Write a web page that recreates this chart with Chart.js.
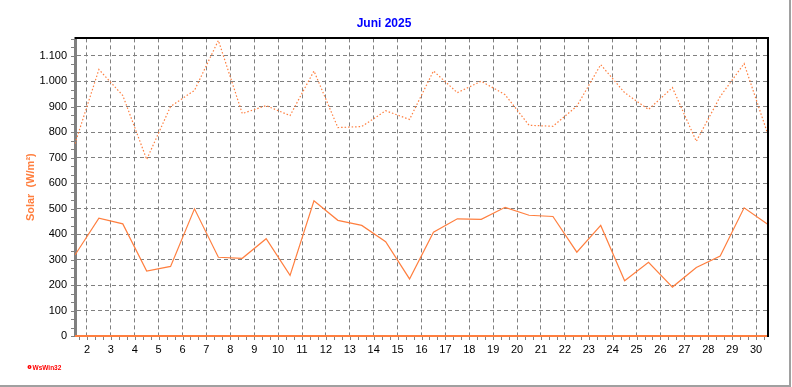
<!DOCTYPE html>
<html>
<head>
<meta charset="utf-8">
<script src="https://cdn.jsdelivr.net/npm/chart.js@4/dist/chart.umd.min.js"></script>
<style>
html,body{margin:0;padding:0;background:#fff;}
canvas{display:block;}
</style>
</head>
<body>
<canvas id="c" width="792" height="387"></canvas>
<script>
// ---- data ----
const days = [1,2,3,4,5,6,7,8,9,10,11,12,13,14,15,16,17,18,19,20,21,22,23,24,25,26,27,28,29,30];
const solarMax = [755,1046,944,693,901,964,1160,873,904,865,1040,818,822,884,850,1040,955,1000,947,827,823,902,1065,955,889,975,764,940,1069,790];
const solarAvg = [318,462,440,255,273,499,309,305,382,238,531,454,434,370,224,407,460,458,505,474,469,329,434,217,289,192,269,314,503,438];
const solarMin = [0,0,0,0,0,0,0,0,0,0,0,0,0,0,0,0,0,0,0,0,0,0,0,0,0,0,0,0,0,0];
const xTickLabels = [2,3,4,5,6,7,8,9,10,11,12,13,14,15,16,17,18,19,20,21,22,23,24,25,26,27,28,29,30];
const yTickValues = [0,100,200,300,400,500,600,700,800,900,1000,1100];
const titleText = 'Juni 2025';
const yTitle = 'Solar  (W/m²)';

const ORANGE = '#ff7f3f';
const FONT = 'Liberation Sans, Arial, sans-serif';

// daily values are plotted at the middle of each day
const pts = arr => arr.map((v, i) => ({x: days[i] + 0.5, y: v}));

const fmt = v => String(v).replace(/\B(?=(\d{3})+(?!\d))/g, '.');

const decor = {
  id: 'decor',
  afterDraw(chart) {
    const {ctx, chartArea: a, scales} = chart;
    const xs = scales.x, ys = scales.y;
    ctx.save();
    // minor ticks on y axis
    ctx.strokeStyle = '#808080';
    ctx.lineWidth = 1;
    ctx.beginPath();
    for (let v = 0; v <= ys.max; v += 100 / 3) {
      const y = Math.round(ys.getPixelForValue(v)) + 0.5;
      ctx.moveTo(a.left - 4, y); ctx.lineTo(a.left - 1, y);
    }
    // minor ticks on x axis
    for (let d = 2 - 1/3; d <= xs.max; d += 1 / 3) {
      if (d < xs.min) continue;
      const x = Math.round(xs.getPixelForValue(d)) + 0.5;
      ctx.moveTo(x, a.bottom + 1); ctx.lineTo(x, a.bottom + 4);
    }
    ctx.stroke();
    // top and right frame
    ctx.fillStyle = '#000';
    ctx.fillRect(a.left, Math.round(a.top) - 1, a.right - a.left + 1, 2);
    ctx.fillRect(Math.round(a.right) - 1, a.top - 1, 2, a.bottom - a.top + 2);
    // page border
    ctx.fillStyle = '#a0a0a0';
    ctx.fillRect(789, 0, 2, 387);
    ctx.fillRect(0, 385, 791, 2);
    // WsWin32 mark
    ctx.fillStyle = '#ff0000';
    ctx.beginPath();
    ctx.arc(29.5, 367, 2, 0, Math.PI * 2);
    ctx.fill();
    ctx.fillStyle = '#fff';
    ctx.fillRect(29, 366.5, 1, 1);
    ctx.fillStyle = '#ff0000';
    ctx.font = 'bold 6.5px ' + FONT;
    ctx.textBaseline = 'middle';
    ctx.textAlign = 'left';
    ctx.fillText('WsWin32', 32.5, 368);
    ctx.restore();
  }
};

new Chart(document.getElementById('c'), {
  type: 'line',
  data: {
    datasets: [
      {data: pts(solarMax), borderColor: ORANGE, borderWidth: 1.2, borderDash: [1.5, 2], pointRadius: 0, tension: 0, fill: false},
      {data: pts(solarAvg), borderColor: ORANGE, borderWidth: 1.2, pointRadius: 0, tension: 0, fill: false},
      {data: pts(solarMin), borderColor: ORANGE, borderWidth: 2, pointRadius: 0, tension: 0, fill: false, clip: 4}
    ]
  },
  options: {
    responsive: false,
    animation: false,
    devicePixelRatio: 1,
    layout: {padding: {left: 0, right: 24, top: 0, bottom: 0}},
    plugins: {
      legend: {display: false},
      tooltip: {enabled: false},
      title: {
        display: true, text: titleText, color: '#0000ff',
        font: {family: FONT, size: 12, weight: 'bold'},
        padding: {top: 16, bottom: 8}
      }
    },
    scales: {
      x: {
        type: 'linear', min: 1.5, max: 30.5,
        afterFit: s => { s.height = 51; },
        afterBuildTicks: s => { s.ticks = xTickLabels.map(v => ({value: v})); },
        ticks: {color: '#000', font: {family: FONT, size: 11}, padding: 7, maxRotation: 0, autoSkip: false,
                callback: v => String(v)},
        grid: {color: '#808080', lineWidth: 1, drawTicks: false},
        border: {display: true, color: '#808080', width: 2, dash: [4, 3]}
      },
      y: {
        type: 'linear', min: 0, max: 1168,
        afterFit: s => { s.width = 75; },
        afterBuildTicks: s => { s.ticks = yTickValues.map(v => ({value: v})); },
        ticks: {color: '#000', font: {family: FONT, size: 11}, padding: 8, callback: v => fmt(v)},
        grid: {color: '#808080', lineWidth: 1, drawTicks: false},
        border: {display: true, color: '#808080', width: 3, dash: [4, 3]},
        title: {display: true, text: yTitle, color: ORANGE,
                font: {family: FONT, size: 11, weight: 'bold'}, padding: {top: 24, bottom: 0}}
      }
    }
  },
  plugins: [decor]
});
</script>
</body>
</html>
